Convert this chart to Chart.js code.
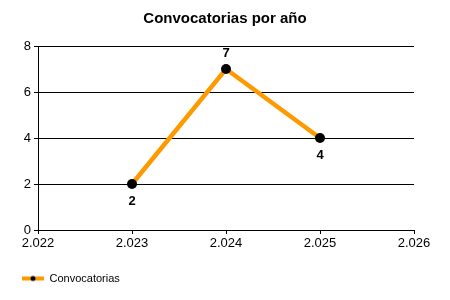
<!DOCTYPE html>
<html>
<head>
<meta charset="utf-8">
<script src="https://cdn.jsdelivr.net/npm/chart.js@4/dist/chart.umd.min.js"></script>
<style>
  html, body { margin: 0; padding: 0; background: #fff; }
  #wrap { width: 450px; height: 300px; }
</style>
</head>
<body>
<div id="wrap"><canvas id="lineChart" width="450" height="300"></canvas></div>
<script>
// Data
const years = [2023, 2024, 2025];
const convocatorias = [2, 7, 4];
const labelPlace = ["below", "above", "below"];
const yTicks = [0, 2, 4, 6, 8];
const xRange = [2022, 2026];

const orange = "rgb(255, 153, 0)";

// legend marker: orange line with a black dot
const marker = document.createElement("canvas");
marker.width = 22;
marker.height = 8;
const mctx = marker.getContext("2d");
mctx.strokeStyle = orange;
mctx.lineWidth = 4;
mctx.beginPath();
mctx.moveTo(0, 4);
mctx.lineTo(22, 4);
mctx.stroke();
mctx.fillStyle = "#000";
mctx.beginPath();
mctx.arc(11, 4, 2.5, 0, Math.PI * 2);
mctx.fill();

// format 2023 as "2.023"
function fmtYear(v) {
  const s = String(Math.round(v));
  return s.slice(0, s.length - 3) + "." + s.slice(-3);
}

// value labels next to each point
const pointLabels = {
  id: "pointLabels",
  afterDatasetsDraw(chart) {
    const ctx = chart.ctx;
    const meta = chart.getDatasetMeta(0);
    ctx.save();
    ctx.font = "bold 13px 'Liberation Sans', Arial, sans-serif";
    ctx.fillStyle = "#000";
    ctx.textAlign = "center";
    ctx.textBaseline = "middle";
    meta.data.forEach((pt, i) => {
      const dy = labelPlace[i] === "above" ? -16 : 17;
      ctx.fillText(String(convocatorias[i]), pt.x, pt.y + dy);
    });
    ctx.restore();
  }
};

Chart.defaults.font.family = "'Liberation Sans', Arial, sans-serif";
Chart.defaults.color = "#000";

new Chart(document.getElementById("lineChart"), {
  type: "line",
  data: {
    datasets: [{
      label: "Convocatorias",
      data: years.map((y, i) => ({ x: y, y: convocatorias[i] })),
      borderColor: orange,
      backgroundColor: "#000",
      borderWidth: 4.5,
      pointRadius: 5,
      pointBackgroundColor: "#000",
      pointBorderColor: "#000",
      pointBorderWidth: 0,
      tension: 0
    }]
  },
  options: {
    responsive: false,
    animation: false,
    layout: { padding: { left: 12, right: 12, top: 0, bottom: 6 } },
    plugins: {
      title: {
        display: true,
        text: "Convocatorias por año",
        color: "#000",
        font: { size: 15, weight: "bold" },
        padding: { top: 10, bottom: 18 }
      },
      legend: {
        position: "bottom",
        align: "start",
        labels: {
          usePointStyle: true,
          pointStyleWidth: 22,
          padding: 10,
          color: "#000",
          font: { size: 11 },
          generateLabels(chart) {
            return chart.data.datasets.map((ds, i) => ({
              text: ds.label,
              pointStyle: marker,
              fillStyle: orange,
              strokeStyle: orange,
              lineWidth: 0,
              datasetIndex: i
            }));
          }
        }
      },
      tooltip: { enabled: false }
    },
    scales: {
      x: {
        type: "linear",
        min: xRange[0],
        max: xRange[1],
        ticks: {
          stepSize: 1,
          font: { size: 13 },
          color: "#000",
          padding: 2,
          callback: v => fmtYear(v)
        },
        grid: {
          drawOnChartArea: false,
          drawTicks: true,
          tickLength: 4,
          color: "#000"
        },
        border: { color: "#000", width: 1 },
        afterFit(scale) {
          scale.height = 33;
          scale.paddingRight = 36;
        }
      },
      y: {
        min: 0,
        max: 8,
        afterBuildTicks(scale) { scale.ticks = yTicks.map(v => ({ value: v })); },
        ticks: {
          font: { size: 13 },
          color: "#000",
          padding: 3
        },
        grid: {
          color: "#000",
          tickLength: 4,
          lineWidth: 1
        },
        border: { color: "#000", width: 1 },
        afterFit(scale) { scale.width = 26; }
      }
    }
  },
  plugins: [pointLabels]
});
</script>
</body>
</html>
